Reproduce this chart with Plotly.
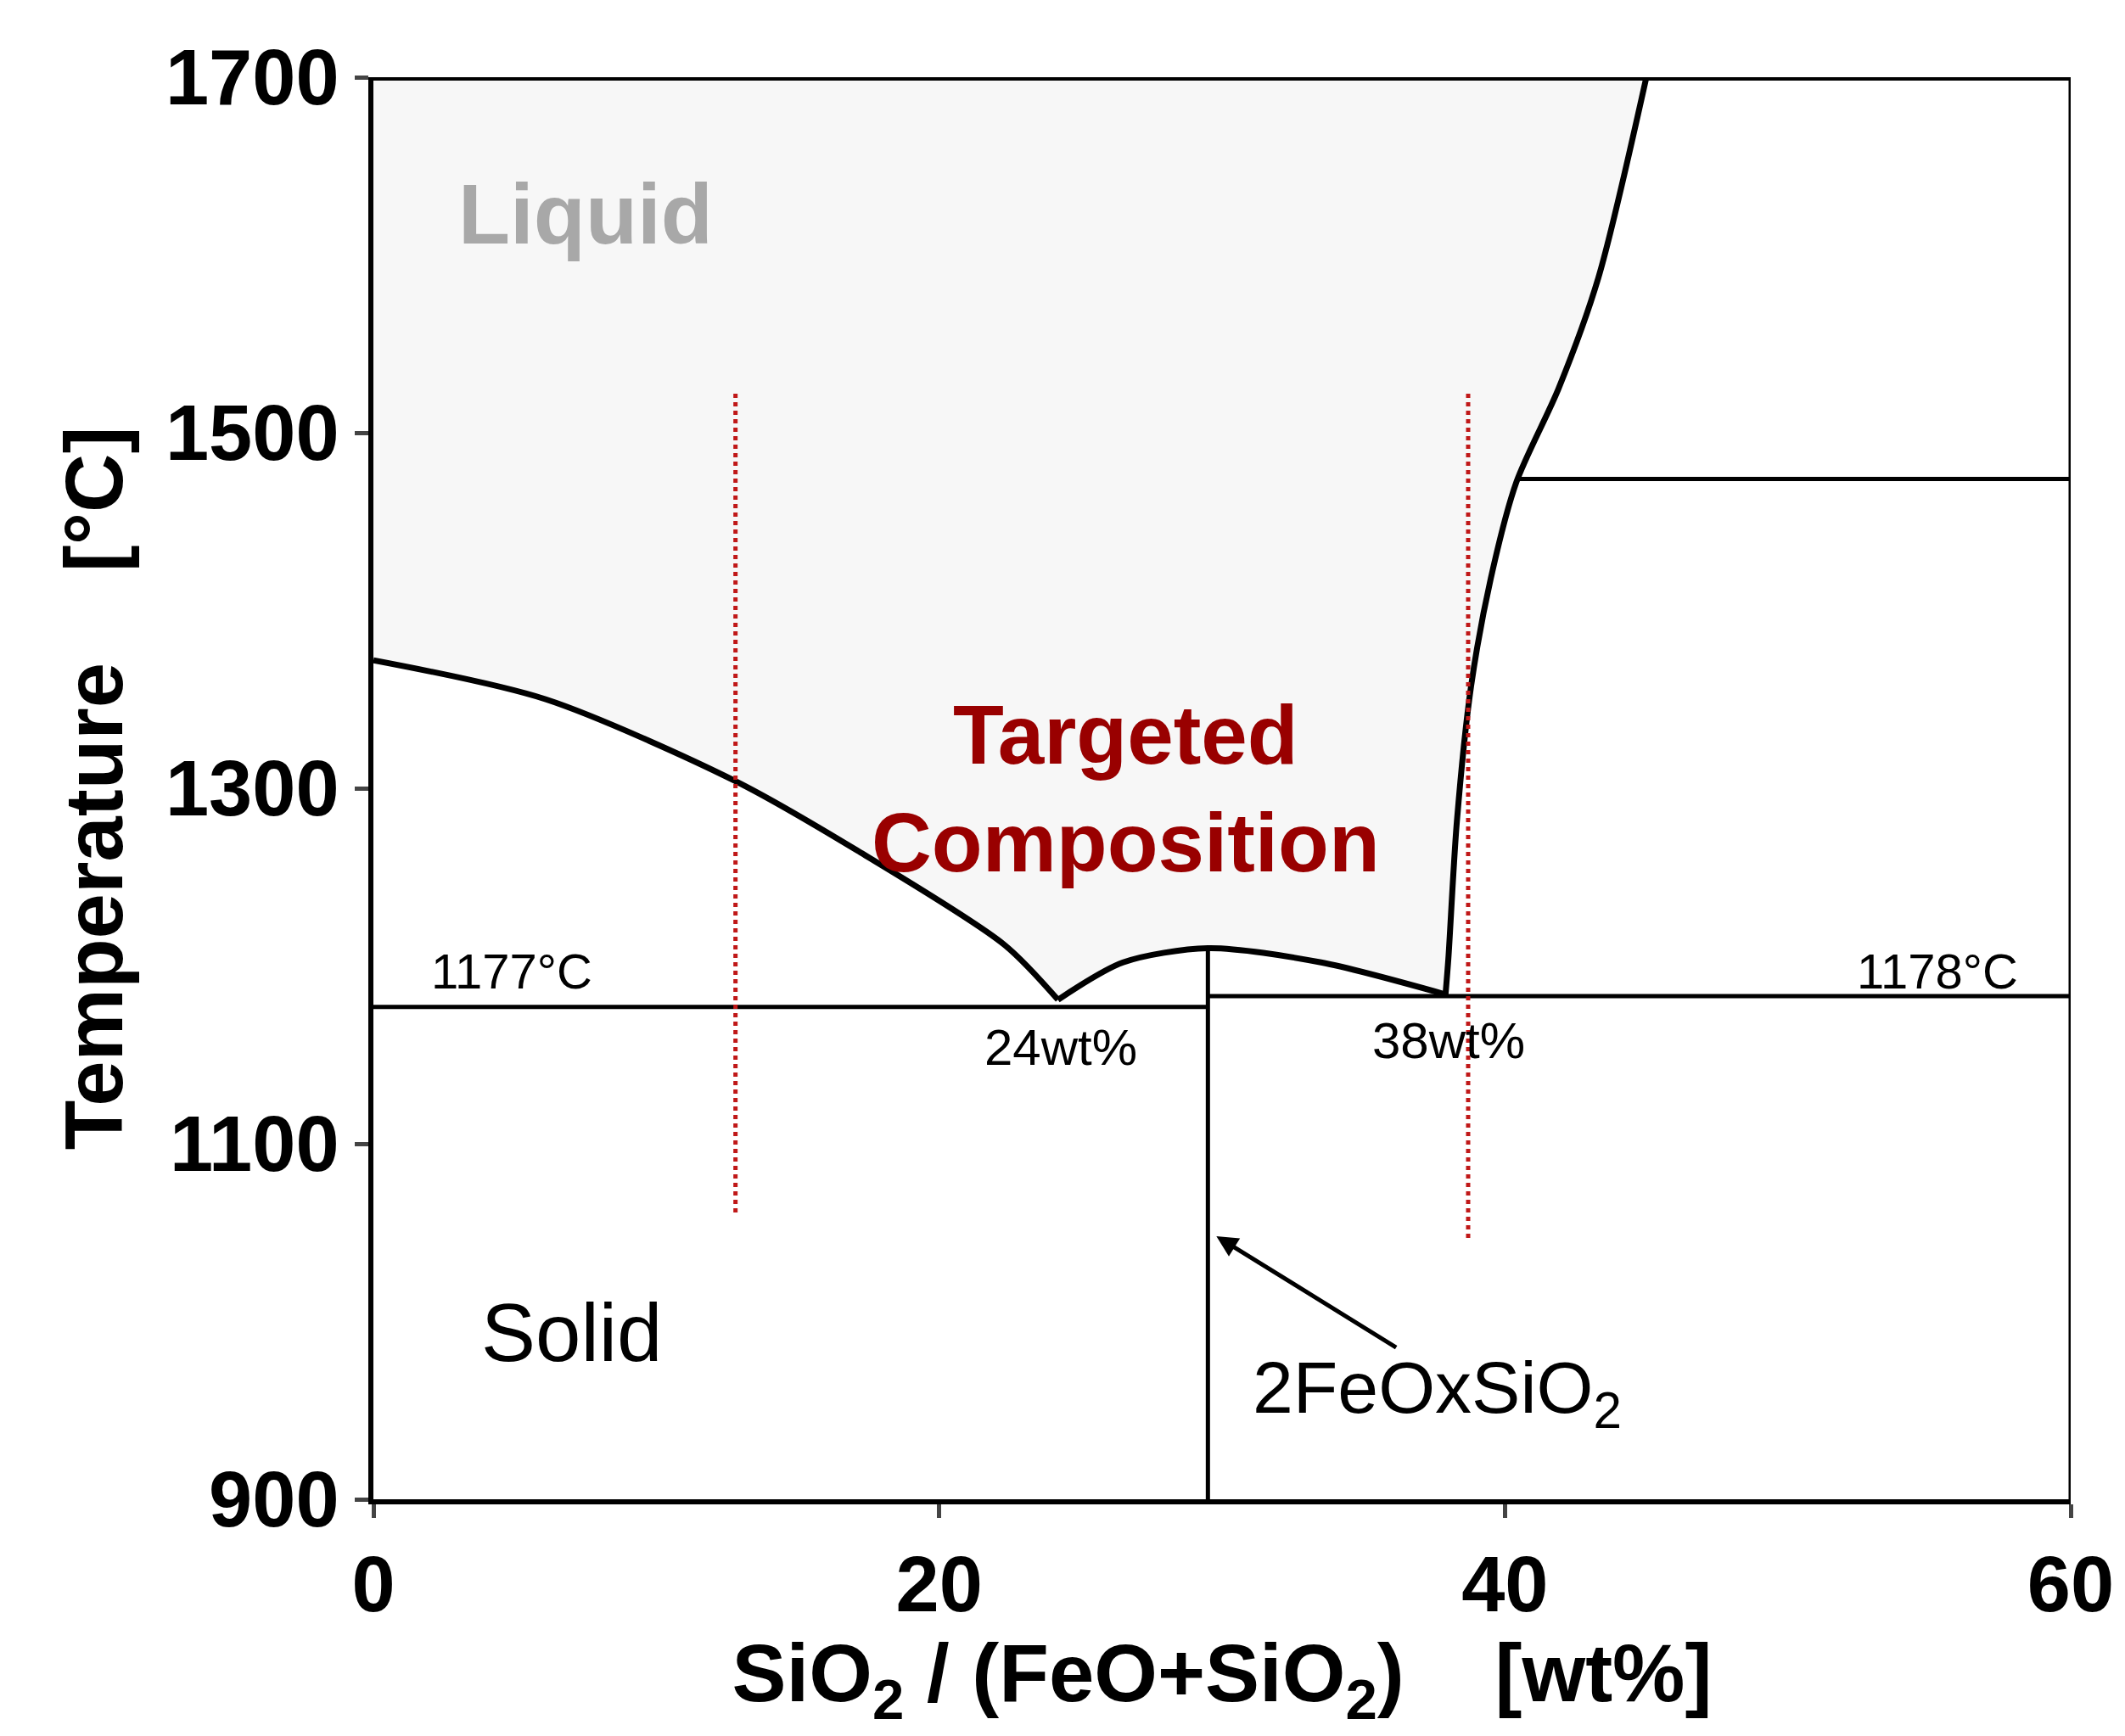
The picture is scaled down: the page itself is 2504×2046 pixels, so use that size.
import plotly.graph_objects as go

liq_x = [0, 6.1, 12.8, 17.1, 22.3, 24.2]
liq_t = [1372, 1350, 1304, 1265, 1212, 1181]
dome_x = [24.2, 26.5, 29.5, 33.5, 37.9]
dome_t = [1181, 1202, 1210, 1202, 1184]
sio2_x = [37.9, 38.0, 38.3, 38.8, 39.5, 40.4, 41.9, 43.3, 45.0]
sio2_t = [1184, 1204, 1281, 1357, 1418, 1472, 1525, 1587, 1700]
red1_x = [12.8, 12.8]; red1_t = [1522, 1060]
red2_x = [38.7, 38.7]; red2_t = [1522, 1047]

F = "Liberation Sans, Arial"
fig = go.Figure()
fx = liq_x + dome_x[1:] + sio2_x[1:] + [0]
ft = liq_t + dome_t[1:] + sio2_t[1:] + [1700]
fig.add_trace(go.Scatter(x=fx, y=ft, fill="toself", fillcolor="#f7f7f7", line=dict(width=0), mode="lines", hoverinfo="skip"))
lk = dict(color="black", width=7, shape="spline", smoothing=0.8)
for xs, ys in [(liq_x, liq_t), (dome_x, dome_t), (sio2_x, sio2_t)]:
    fig.add_trace(go.Scatter(x=xs, y=ys, mode="lines", line=lk))
lt = dict(color="black", width=5)
for xs, ys in [([0, 29.5], [1177, 1177]), ([29.5, 60], [1183, 1183]), ([29.5, 29.5], [1210, 900]),
               ([40.5, 60], [1474, 1474]), ([60, 60], [900, 1700])]:
    fig.add_trace(go.Scatter(x=xs, y=ys, mode="lines", line=lt))
fig.add_trace(go.Scatter(x=[0, 60], y=[1700, 1700], mode="lines", line=dict(color="black", width=8)))
for xs, ys in [(red1_x, red1_t), (red2_x, red2_t)]:
    fig.add_trace(go.Scatter(x=xs, y=ys, mode="lines", line=dict(color="#c01818", width=5, dash="dot")))

def ann(x, y, t, size, color="black", bold=False):
    fig.add_annotation(x=x, y=y, text=(f"<b>{t}</b>" if bold else t), showarrow=False,
                       font=dict(family=F, size=size, color=color))
ann(7.5, 1623, "Liquid", 100, "#a8a8a8", True)
ann(26.6, 1300, "Targeted<br>Composition", 98, "#990000", True)
ann(7.0, 994, "Solid", 96)
ann(37.6, 960, "2FeOxSiO<sub>2</sub>", 86)
ann(4.9, 1197, "1177°C", 58)
ann(55.3, 1197, "1178°C", 58)
ann(24.3, 1154, "24wt%", 60)
ann(38.0, 1158, "38wt%", 60)
fig.add_annotation(x=29.8, y=1048, ax=36.2, ay=985, axref="x", ayref="y", showarrow=True,
                   arrowhead=2, arrowsize=1, arrowwidth=5, arrowcolor="black", text="")

fig.update_layout(width=2504, height=2046, showlegend=False, plot_bgcolor="white", paper_bgcolor="white",
                  margin=dict(l=432, r=72, t=83, b=287))
tf = dict(family=F, size=92, color="black", weight="bold")
fig.update_xaxes(range=[0, 60], tickvals=[0, 20, 40, 60], showgrid=False, zeroline=False,
                 showline=True, linecolor="black", linewidth=6, ticks="outside", ticklen=16, tickwidth=5,
                 tickfont=tf,
                 title=dict(text="<b>SiO<sub>2</sub> / (FeO+SiO<sub>2</sub>)    [wt%]</b>", font=dict(family=F, size=96, color="black"), standoff=20))
fig.update_yaxes(range=[900, 1700], tickvals=[900, 1100, 1300, 1500, 1700], showgrid=False, zeroline=False,
                 showline=True, linecolor="black", linewidth=6, ticks="outside", ticklen=16, tickwidth=5,
                 tickfont=tf,
                 title=dict(text="<b>Temperature    [°C]</b>", font=dict(family=F, size=96, color="black"), standoff=20))
fig.write_html("out.html")
